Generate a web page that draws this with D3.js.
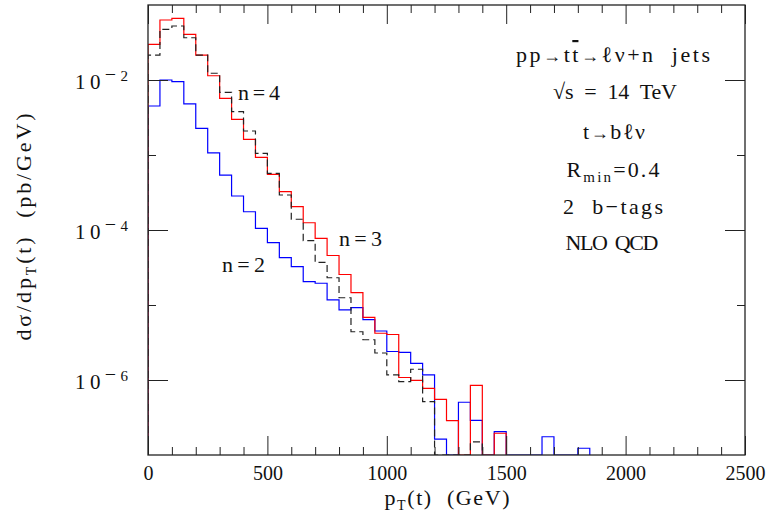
<!DOCTYPE html>
<html>
<head>
<meta charset="utf-8">
<script src="https://cdn.jsdelivr.net/npm/d3@7"></script>
<style>
  html, body { margin: 0; padding: 0; background: #fff; }
  svg { display: block; }
  text { font-family: "Liberation Serif", "DejaVu Serif", serif; fill: #111; white-space: pre; }
</style>
</head>
<body>
<svg id="chart" width="774" height="522"></svg>
<script>
// ---- data (50 GeV bins, lower edges in GeV) ----
const binLow = [0,50,100,150,200,250,300,350,400,450,500,550,600,650,700,750,800,850,900,950,
                1000,1050,1100,1150,1200,1250,1300,1350,1400,1450,1500,1550,1600,1650,1700,1750,1800];
const binWidth = 50;

// n = 2 jets (blue)
const n2Values = [4.5e-3, 1.0e-2, 9.5e-3, 4.8e-3, 2.26e-3, 1.07e-3, 5.4e-4, 2.84e-4, 1.75e-4, 1.05e-4,
                  6.8e-5, 4.27e-5, 3.24e-5, 2.05e-5, 1.95e-5, 1.17e-5, 8.6e-6, 9.2e-6, 6.4e-6, 4.5e-6,
                  2.4e-6, 2.33e-6, 1.67e-6, 1.17e-6, 1.63e-7, 0, 5.05e-7, 2.9e-7, 0, 2.05e-7,
                  0, 0, 0, 1.75e-7, 0, 0, 1.23e-7];
// n = 3 jets (red)
const n3Values = [2.99e-2, 6.31e-2, 6.65e-2, 4.07e-2, 2.15e-2, 1.14e-2, 5.7e-3, 2.99e-3, 1.62e-3, 9.3e-4,
                  5.53e-4, 3.24e-4, 2.05e-4, 1.25e-4, 7.74e-5, 4.57e-5, 2.55e-5, 1.46e-5, 6.85e-6, 4.2e-6,
                  4.04e-6, 1.08e-6, 9.9e-7, 7.75e-7, 5.5e-7, 2.87e-7, 0, 8.5e-7, 0, 1.95e-7];
// n = 4 jets (black dashed)
const n4Values = [2.15e-2, 4.74e-2, 5.25e-2, 3.66e-2, 2.15e-2, 1.23e-2, 6.86e-3, 3.78e-3, 2.09e-3, 1.05e-3,
                  5.7e-4, 2.93e-4, 1.39e-4, 7.2e-5, 3.69e-5, 2.31e-5, 1.25e-5, 4.4e-6, 3.44e-6, 2.29e-6,
                  1.17e-6, 9.5e-7, 1.39e-6, 5.14e-7, 0, 0, 0, 1.5e-7];

const xMajorTicks = [0, 500, 1000, 1500, 2000, 2500];
const xMinorTicks = [100,200,300,400,600,700,800,900,1100,1200,1300,1400,1600,1700,1800,1900,2100,2200,2300,2400];
const yMajorTicks = [1e-2, 1e-4, 1e-6];
const yMajorExp = ["2", "4", "6"];
const yMinorTicks = [1e-3, 1e-5];

const seriesLabels = ["n=2", "n=3", "n=4"];

// ---- layout ----
const svg = d3.select("#chart");
const L = 148, R = 745, T = 5, B = 455;

const x = d3.scaleLinear().domain([0, 2500]).range([L, R]);
const y = d3.scaleLog().domain([1e-7, 1e-1]).range([B, T]);
const yFloor = 1e-7;

svg.append("defs").append("clipPath").attr("id", "plotclip")
  .append("rect").attr("x", L).attr("y", T).attr("width", R - L).attr("height", B - T);

function stepPoints(vals) {
  const pts = [[binLow[0], yFloor]];
  vals.forEach((v, i) => {
    const vv = Math.max(v, yFloor);
    pts.push([binLow[i], vv]);
    pts.push([binLow[i] + binWidth, vv]);
  });
  pts.push([binLow[vals.length - 1] + binWidth, yFloor]);
  return pts;
}
const line = d3.line().x(d => x(d[0])).y(d => y(d[1]));

const plot = svg.append("g").attr("clip-path", "url(#plotclip)");
plot.append("path").attr("d", line(stepPoints(n2Values)))
  .attr("fill", "none").attr("stroke", "#0000ff").attr("stroke-width", 1.2);
plot.append("path").attr("d", line(stepPoints(n3Values)))
  .attr("fill", "none").attr("stroke", "#ff0000").attr("stroke-width", 1.2);
plot.append("path").attr("d", line(stepPoints(n4Values)))
  .attr("fill", "none").attr("stroke", "#222").attr("stroke-width", 1.2)
  .attr("stroke-dasharray", "7,4");

// ---- axes ----
function styleAxis(g) {
  g.select(".domain").remove();
  g.selectAll(".tick line").attr("stroke", "#222").attr("stroke-width", 1);
}
const gB = svg.append("g").attr("transform", `translate(0,${B})`);
gB.call(d3.axisBottom(x).tickValues(xMajorTicks).tickSize(-19).tickPadding(11).tickFormat(d3.format("d")))
  .call(styleAxis);
gB.selectAll(".tick text").attr("font-size", 20).attr("font-family", "Liberation Serif").attr("fill", "#111");
svg.append("g").attr("transform", `translate(0,${B})`)
  .call(d3.axisBottom(x).tickValues(xMinorTicks).tickSize(-8).tickFormat(""))
  .call(styleAxis);
svg.append("g").attr("transform", `translate(0,${T})`)
  .call(d3.axisTop(x).tickValues(xMajorTicks).tickSize(-19).tickFormat(""))
  .call(styleAxis);
svg.append("g").attr("transform", `translate(0,${T})`)
  .call(d3.axisTop(x).tickValues(xMinorTicks).tickSize(-8).tickFormat(""))
  .call(styleAxis);
const gL = svg.append("g").attr("transform", `translate(${L},0)`);
gL.call(d3.axisLeft(y).tickValues(yMajorTicks).tickSize(-20).tickPadding(20).tickFormat(""))
  .call(styleAxis);
gL.selectAll(".tick text").each(function(d, i) {
  const t = d3.select(this);
  t.attr("font-size", 21).attr("font-family", "Liberation Serif").attr("fill", "#111").attr("dy", "0.4em")
   .attr("textLength", 53).attr("lengthAdjust", "spacing");
  t.append("tspan").text("10");
  t.append("tspan").attr("dy", -8).attr("font-size", 20).text("−");
  t.append("tspan").attr("font-size", 15).text(yMajorExp[i]);
});
svg.append("g").attr("transform", `translate(${L},0)`)
  .call(d3.axisLeft(y).tickValues(yMinorTicks).tickSize(-8).tickFormat(""))
  .call(styleAxis);
svg.append("g").attr("transform", `translate(${R},0)`)
  .call(d3.axisRight(y).tickValues(yMajorTicks).tickSize(-20).tickFormat(""))
  .call(styleAxis);
svg.append("g").attr("transform", `translate(${R},0)`)
  .call(d3.axisRight(y).tickValues(yMinorTicks).tickSize(-8).tickFormat(""))
  .call(styleAxis);

svg.append("rect").attr("x", L).attr("y", T).attr("width", R - L).attr("height", B - T)
  .attr("fill", "none").attr("stroke", "#222").attr("stroke-width", 1.3);

// ---- axis titles ----
const xt = svg.append("text").attr("x", 447).attr("y", 505).attr("text-anchor", "middle")
  .attr("font-size", 22).attr("textLength", 125).attr("lengthAdjust", "spacing");
xt.append("tspan").text("p");
xt.append("tspan").attr("dy", 5).attr("font-size", 14).text("T");
xt.append("tspan").attr("dy", -5).text("(t)  (GeV)");

const yt = svg.append("text").attr("transform", "translate(31,227) rotate(-90)")
  .attr("text-anchor", "middle").attr("font-size", 22).attr("textLength", 227).attr("lengthAdjust", "spacing");
yt.append("tspan").text("dσ/dp");
yt.append("tspan").attr("dy", 5).attr("font-size", 14).text("T");
yt.append("tspan").attr("dy", -5).text("(t)  (pb/GeV)");

// ---- annotations ----
function annot(cx, yb, len) {
  return svg.append("text").attr("x", cx).attr("y", yb).attr("text-anchor", "middle")
    .attr("font-size", 22).attr("textLength", len).attr("lengthAdjust", "spacing");
}
const a1 = annot(613, 62, 194);
a1.append("tspan").text("pp");
a1.append("tspan").attr("font-size", 18).text("→");
a1.append("tspan").text("t");
a1.append("tspan").style("text-decoration", "overline").text("t");
a1.append("tspan").attr("font-size", 18).text("→");
a1.append("tspan").text("ℓν+n  jets");

annot(615, 99, 124).text("√s  =  14  TeV");
const a3 = annot(614, 139, 62);
a3.append("tspan").text("t");
a3.append("tspan").attr("font-size", 18).text("→");
a3.append("tspan").text("bℓν");
const a4 = annot(613, 177, 93);
a4.append("tspan").text("R");
a4.append("tspan").attr("dy", 5).attr("font-size", 15).text("min");
a4.append("tspan").attr("dy", -5).text("=0.4");
annot(613, 214, 100).text("2  b−tags");
annot(612, 250, 93).text("NLO  QCD");

// series labels
function slabel(xs, yb, len, txt) {
  svg.append("text").attr("x", xs).attr("y", yb).attr("font-size", 22)
    .attr("textLength", len).attr("lengthAdjust", "spacing").text(txt);
}
slabel(238, 100, 42, seriesLabels[2]);
slabel(339, 246, 43, seriesLabels[1]);
slabel(222, 272, 43, seriesLabels[0]);
</script>
</body>
</html>
